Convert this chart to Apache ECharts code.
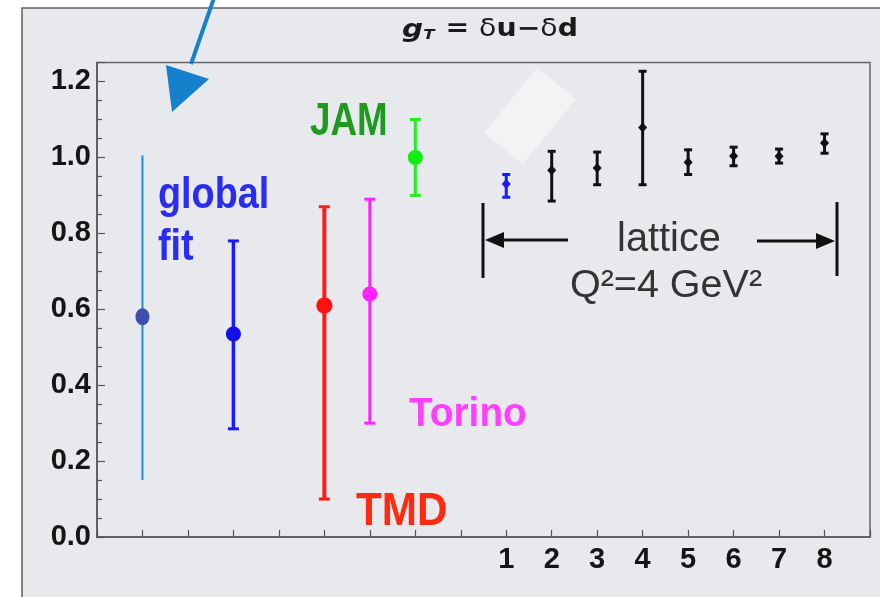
<!DOCTYPE html>
<html>
<head>
<meta charset="utf-8">
<script src="https://cdn.jsdelivr.net/npm/echarts@6/dist/echarts.min.js"></script>
<style>
html,body{margin:0;padding:0;background:#fff;}
#chart{width:880px;height:597px;}
</style>
</head>
<body>
<div id="chart"></div>
<script>
// ---- data ----
const phenoLabels = ['global fit (wide)', 'global fit', 'TMD', 'Torino', 'JAM'];
const phenoX = [1, 3, 5, 6, 7];
const phenoCentral = [0.58, 0.535, 0.61, 0.64, 1.00];
const phenoLow = [0.15, 0.285, 0.10, 0.30, 0.90];
const phenoHigh = [1.005, 0.78, 0.87, 0.89, 1.10];

const latticeLabels = ['1', '2', '3', '4', '5', '6', '7', '8'];
const latticeX = [9, 10, 11, 12, 13, 14, 15, 16];
const latticeCentral = [0.93, 0.966, 0.972, 1.079, 0.987, 1.004, 1.003, 1.038];
const latticeLow = [0.895, 0.885, 0.928, 0.928, 0.955, 0.978, 0.985, 1.011];
const latticeHigh = [0.955, 1.016, 1.014, 1.227, 1.020, 1.027, 1.022, 1.062];

const yTickLabels = ['0.0', '0.2', '0.4', '0.6', '0.8', '1.0', '1.2'];

// ---- styles (kept apart from data) ----
const phenoStyles = [
  {line: '#1a8fd8', lw: 2, cap: 0, dot: '#3d4fae', rx: 7, ry: 8.5},
  {line: '#1a1aff', lw: 3.5, cap: 11, dot: '#1010ee', rx: 7.5, ry: 7.5},
  {line: '#ff1a1a', lw: 4, cap: 11, dot: '#ff1010', rx: 8, ry: 8},
  {line: '#ff22ff', lw: 3, cap: 11, dot: '#ff22ff', rx: 7.5, ry: 7.5},
  {line: '#22ee22', lw: 3, cap: 11, dot: '#10ee10', rx: 7.5, ry: 7.5}
];
const latticeColors = ['#1a1aff', '#111', '#111', '#111', '#111', '#111', '#111', '#111'];

function errRender(styleFor) {
  return function (params, api) {
    const i = params.dataIndex;
    const st = styleFor(i);
    const x = api.value(0);
    const pc = api.coord([x, api.value(1)]);
    const pl = api.coord([x, api.value(2)]);
    const ph = api.coord([x, api.value(3)]);
    const children = [{
      type: 'line',
      shape: {x1: pc[0], y1: pl[1], x2: pc[0], y2: ph[1]},
      style: {stroke: st.line, lineWidth: st.lw}
    }];
    if (st.cap > 0) {
      [pl[1], ph[1]].forEach(function (yy) {
        children.push({
          type: 'line',
          shape: {x1: pc[0] - st.cap / 2, y1: yy, x2: pc[0] + st.cap / 2, y2: yy},
          style: {stroke: st.line, lineWidth: st.capW || 3}
        });
      });
    }
    if (st.diamond) {
      children.push({
        type: 'polygon',
        shape: {points: [[pc[0], pc[1] - 5], [pc[0] + 4.5, pc[1]], [pc[0], pc[1] + 5], [pc[0] - 4.5, pc[1]]]},
        style: {fill: st.dot}
      });
    } else {
      children.push({
        type: 'ellipse',
        shape: {cx: pc[0], cy: pc[1], rx: st.rx, ry: st.ry},
        style: {fill: st.dot}
      });
    }
    return {type: 'group', children: children};
  };
}

const phenoData = phenoX.map(function (x, i) {
  return {name: phenoLabels[i], value: [x, phenoCentral[i], phenoLow[i], phenoHigh[i]]};
});
const latticeData = latticeX.map(function (x, i) {
  return {name: latticeLabels[i], value: [x, latticeCentral[i], latticeLow[i], latticeHigh[i]]};
});

const chart = echarts.init(document.getElementById('chart'), null, {renderer: 'canvas'});

const frameFont = 'Liberation Sans, Arial, sans-serif';
const titleFont = 'DejaVu Sans, sans-serif';

// place text by its baseline (top-aligned box: baseline ~ top + 0.81*fontSize)
function labelAt(text, x, baseline, fs, color, opts) {
  opts = opts || {};
  return {
    type: 'text', z: 10, x: x, y: baseline - 0.81 * fs, scaleX: opts.scaleX || 1,
    style: {
      text: text, fontSize: fs, fontWeight: opts.weight || 'bold', fill: color,
      fontFamily: frameFont, align: opts.align || 'left', verticalAlign: 'top'
    }
  };
}

const option = {
  backgroundColor: '#ffffff',
  animation: false,
  grid: {
    left: 97, top: 62.5, right: 10, bottom: 60,
    show: true, borderColor: '#666', borderWidth: 1.5, backgroundColor: 'transparent'
  },
  xAxis: {
    type: 'value', min: 0, max: 17, interval: 1,
    axisLine: {show: true, lineStyle: {color: '#555', width: 1.5}},
    axisTick: {show: true, inside: true, length: 7, lineStyle: {color: '#555', width: 1.2}},
    splitLine: {show: false},
    axisLabel: {
      margin: 8, fontSize: 29, fontWeight: 'bold', color: '#151515', fontFamily: frameFont,
      formatter: function (v) {
        const k = latticeX.indexOf(Math.round(v));
        return k >= 0 ? latticeLabels[k] : '';
      }
    }
  },
  yAxis: {
    type: 'value', min: 0, max: 1.25, interval: 0.2,
    axisLine: {show: true, lineStyle: {color: '#555', width: 1.5}},
    axisTick: {show: true, inside: true, length: 8, lineStyle: {color: '#555', width: 1.2}},
    minorTick: {show: true, splitNumber: 4, length: 5, lineStyle: {color: '#555', width: 1.2}},
    splitLine: {show: false},
    axisLabel: {
      margin: 6, fontSize: 29, fontWeight: 'bold', color: '#151515', fontFamily: frameFont,
      showMaxLabel: false,
      formatter: function (v) {
        const k = Math.round(v / 0.2);
        return Math.abs(v - k * 0.2) < 1e-6 && k < yTickLabels.length ? yTickLabels[k] : '';
      }
    }
  },
  series: [
    {
      type: 'custom', name: 'phenomenology', data: phenoData,
      renderItem: errRender(function (i) { return phenoStyles[i]; }),
      z: 5
    },
    {
      type: 'custom', name: 'lattice', data: latticeData,
      renderItem: errRender(function (i) {
        return {line: latticeColors[i], lw: 3, cap: 8, capW: 3, dot: latticeColors[i], diamond: true};
      }),
      z: 5
    }
  ],
  graphic: {
    elements: [
      // outer frame / background
      {type: 'rect', z: -100, shape: {x: 22, y: 8, width: 900, height: 700},
       style: {fill: '#e8e9ed', stroke: '#606060', lineWidth: 1.5}},
      // title
      {type: 'text', x: 490, y: 30, z: 10, scaleX: 1.18,
       style: {
         text: '{g|g}{s|T}{r| = }{d|δ}{r|u−}{d|δ}{r|d}', align: 'center', verticalAlign: 'middle',
         rich: {
           g: {fontSize: 25, fontWeight: 'bold', fontStyle: 'italic', fill: '#1a1a1a', fontFamily: titleFont},
           s: {fontSize: 14, fontWeight: 'bold', fontStyle: 'italic', fill: '#1a1a1a', fontFamily: titleFont, padding: [10, 1, 0, 0]},
           r: {fontSize: 24, fontWeight: 'bold', fill: '#1a1a1a', fontFamily: titleFont},
           d: {fontSize: 24, fontWeight: 'normal', fill: '#1a1a1a', fontFamily: titleFont}
         }
       }},
      // pointing arrow (top left)
      {type: 'line', z: 20, shape: {x1: 214, y1: -2, x2: 191, y2: 64},
       style: {stroke: '#1581cc', lineWidth: 4}},
      {type: 'polygon', z: 20, shape: {points: [[172, 112], [166, 65], [209, 79]]},
       style: {fill: '#1581cc'}},
      // pale rotated patch near lattice point 1
      {type: 'rect', z: 30, x: 530, y: 116, rotation: -39 * Math.PI / 180,
       shape: {x: -25, y: -42, width: 50, height: 84},
       style: {fill: 'rgba(242,243,246,0.95)'}},
      // labels
      labelAt('global', 158, 210, 45, '#2a2cf0', {scaleX: 0.84}),
      labelAt('fit', 158, 262, 45, '#2a2cf0', {scaleX: 0.84}),
      labelAt('JAM', 310, 137, 46, '#1e9a1e', {scaleX: 0.8}),
      labelAt('Torino', 409, 427, 40, '#ff40ff', {scaleX: 0.97}),
      labelAt('TMD', 356, 527, 46, '#ff2a10', {scaleX: 0.92}),
      labelAt('lattice', 669, 252, 41, '#333', {scaleX: 0.97, weight: 'normal', align: 'center'}),
      labelAt('Q²=4 GeV²', 666, 298, 38, '#333', {scaleX: 1.04, weight: 'normal', align: 'center'}),
      // lattice range arrows
      {type: 'line', z: 10, shape: {x1: 483, y1: 203, x2: 483, y2: 278}, style: {stroke: '#111', lineWidth: 3}},
      {type: 'line', z: 10, shape: {x1: 500, y1: 240, x2: 568, y2: 240}, style: {stroke: '#111', lineWidth: 3}},
      {type: 'polygon', z: 10, shape: {points: [[485, 240], [504, 232], [504, 248]]}, style: {fill: '#111'}},
      {type: 'line', z: 10, shape: {x1: 837, y1: 202, x2: 837, y2: 276}, style: {stroke: '#111', lineWidth: 3}},
      {type: 'line', z: 10, shape: {x1: 757, y1: 241, x2: 820, y2: 241}, style: {stroke: '#111', lineWidth: 3}},
      {type: 'polygon', z: 10, shape: {points: [[835, 241], [816, 233], [816, 249]]}, style: {fill: '#111'}}
    ]
  }
};
chart.setOption(option);
</script>
</body>
</html>
